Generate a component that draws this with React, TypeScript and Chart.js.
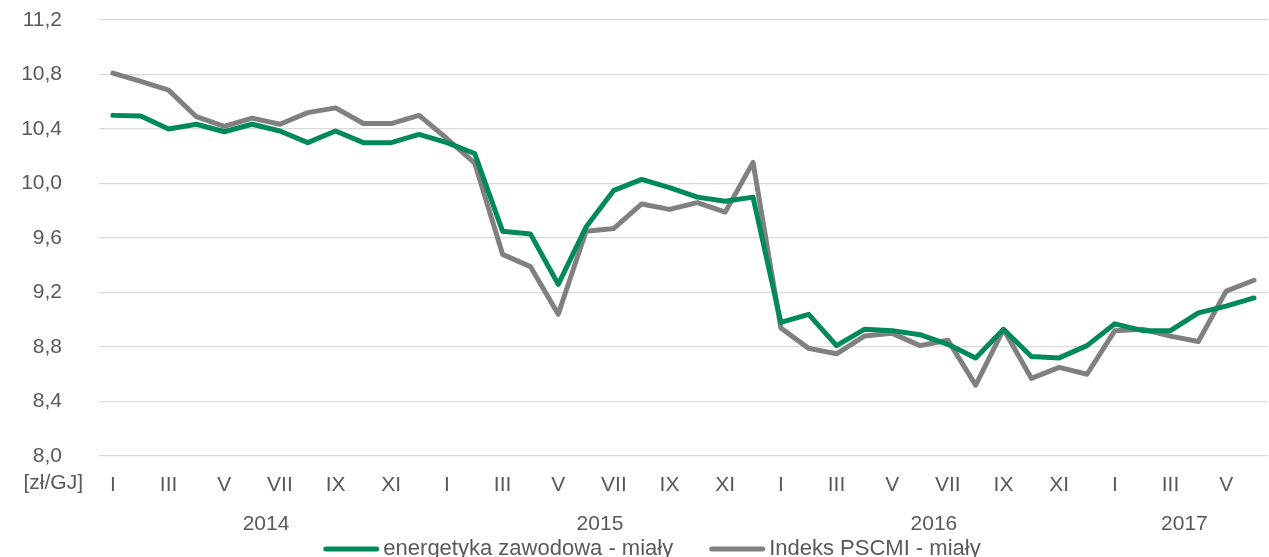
import React, { useEffect, useRef } from "react";
import { Chart, registerables } from "chart.js";

Chart.register(...registerables);

const monthNames = ["I", "II", "III", "IV", "V", "VI", "VII", "VIII", "IX", "X", "XI", "XII"];
const years = ["2014", "2015", "2016", "2017"];
const monthsPerYear = [12, 12, 12, 6];

const energetyka = [
  10.50, 10.495, 10.40, 10.435, 10.38, 10.435, 10.385, 10.30, 10.385, 10.30, 10.30, 10.36,
  10.30, 10.22, 9.65, 9.63, 9.26, 9.68, 9.95, 10.03, 9.97, 9.90, 9.87, 9.90,
  8.98, 9.04, 8.81, 8.93, 8.92, 8.89, 8.82, 8.72, 8.93, 8.73, 8.72, 8.81,
  8.97, 8.92, 8.92, 9.05, 9.10, 9.16,
];
const pscmi = [
  10.81, 10.75, 10.685, 10.49, 10.42, 10.48, 10.435, 10.52, 10.555, 10.44, 10.44, 10.50,
  10.33, 10.15, 9.48, 9.39, 9.04, 9.65, 9.67, 9.85, 9.81, 9.86, 9.79, 10.155,
  8.94, 8.79, 8.75, 8.88, 8.90, 8.81, 8.85, 8.52, 8.93, 8.57, 8.65, 8.60,
  8.92, 8.93, 8.88, 8.84, 9.21, 9.29,
];

const seriesNames = ["energetyka zawodowa - miały", "Indeks PSCMI - miały"];
const seriesColors = ["#00895A", "#808080"];
const yMin = 8.0;
const yMax = 11.2;
const yStep = 0.4;
const unitLabel = "[zł/GJ]";

const FONT = "'Liberation Sans', Arial, sans-serif";
const TEXT = "#595959";
const FS = 21;
const LEGEND_FS = 22;

function legendLine(color: string): HTMLCanvasElement {
  // swatch image: the line sits on the right part so that it ends close to the text
  const c = document.createElement("canvas");
  c.width = 64;
  c.height = 10;
  const g = c.getContext("2d")!;
  g.strokeStyle = color;
  g.lineWidth = 5;
  g.lineCap = "round";
  g.beginPath();
  g.moveTo(10.5, 5);
  g.lineTo(61.5, 5);
  g.stroke();
  return c;
}

export default function App() {
  const ref = useRef<HTMLCanvasElement>(null);

  useEffect(() => {
    const canvas = ref.current!;
    const labels: string[] = [];
    years.forEach((y, yi) => {
      for (let m = 0; m < monthsPerYear[yi]; m++) labels.push(monthNames[m]);
    });
    const yearCenters: number[] = [];
    let start = 0;
    monthsPerYear.forEach((n) => {
      yearCenters.push(start + (n - 1) / 2);
      start += n;
    });

    const unitPlugin = {
      id: "unitLabel",
      afterDraw(chart: any) {
        const ctx = chart.ctx;
        const xs = chart.scales.x;
        ctx.save();
        ctx.font = `${FS}px ${FONT}`;
        ctx.fillStyle = TEXT;
        ctx.textAlign = "right";
        ctx.textBaseline = "middle";
        ctx.fillText(unitLabel, chart.chartArea.left - 16, xs.top + 27);
        ctx.restore();
      },
    };

    // move the legend box so it sits closer under the year row, slightly right of centre
    const legendShift = {
      id: "legendShift",
      afterLayout(chart: any) {
        const l = chart.legend;
        if (!l) return;
        l.left += 16;
        l.right += 16;
        l.top -= 32;
        l.bottom -= 32;
      },
    };

    const chart = new Chart(canvas, {
      type: "line",
      data: {
        labels,
        datasets: [
          {
            label: seriesNames[0],
            data: energetyka,
            borderColor: seriesColors[0],
            backgroundColor: seriesColors[0],
            borderWidth: 5,
            pointRadius: 0,
            pointStyle: legendLine(seriesColors[0]),
            borderCapStyle: "round",
            borderJoinStyle: "round",
            tension: 0,
          },
          {
            label: seriesNames[1],
            data: pscmi,
            borderColor: seriesColors[1],
            backgroundColor: seriesColors[1],
            borderWidth: 5,
            pointRadius: 0,
            pointStyle: legendLine(seriesColors[1]),
            borderCapStyle: "round",
            borderJoinStyle: "round",
            tension: 0,
          },
        ],
      },
      options: {
        animation: false,
        responsive: false,
        devicePixelRatio: 1,
        layout: { padding: { left: 0, right: 0, top: 20, bottom: 0 } },
        font: { family: FONT },
        plugins: {
          tooltip: { enabled: false },
          legend: {
            position: "bottom",
            labels: {
              usePointStyle: true,
              pointStyleWidth: 50,
              boxHeight: LEGEND_FS,
              padding: 35,
              color: TEXT,
              font: { size: LEGEND_FS, family: FONT },
            },
          },
        },
        scales: {
          x: {
            type: "category",
            offset: true,
            weight: 0,
            grid: { display: false, drawTicks: false },
            border: { display: false },
            afterFit: (scale: any) => {
              scale.height = 39;
            },
            ticks: {
              autoSkip: false,
              maxRotation: 0,
              padding: 17,
              color: TEXT,
              font: { size: FS, family: FONT },
              callback: (_v: any, i: number) => (i % 2 === 0 ? labels[i] : ""),
            },
          },
          x2: {
            type: "linear",
            position: "bottom",
            weight: 1,
            min: -0.5,
            max: labels.length - 0.5,
            grid: { display: false, drawTicks: false },
            border: { display: false },
            afterBuildTicks: (scale: any) => {
              scale.ticks = yearCenters.map((v) => ({ value: v }));
            },
            afterFit: (scale: any) => {
              scale.height = 40;
            },
            ticks: {
              autoSkip: false,
              maxRotation: 0,
              padding: 17,
              color: TEXT,
              font: { size: FS, family: FONT },
              callback: (v: any) => {
                const idx = yearCenters.findIndex((c) => Math.abs(c - v) < 1e-6);
                return idx >= 0 ? years[idx] : "";
              },
            },
          },
          y: {
            min: yMin,
            max: yMax,
            afterFit: (scale: any) => {
              scale.width = 99;
              scale.paddingTop = 12;
              scale.paddingBottom = 12;
            },
            grid: { color: "#d9d9d9", lineWidth: 1.3, drawTicks: false },
            border: { display: false },
            ticks: {
              stepSize: yStep,
              padding: 37,
              color: TEXT,
              font: { size: FS, family: FONT },
              callback: (v: any) => Number(v).toFixed(1).replace(".", ","),
            },
          },
        },
      },
      plugins: [unitPlugin, legendShift],
    } as any);
    return () => chart.destroy();
  }, []);

  return (
    <div style={{ position: "fixed", left: 0, top: 0, width: 1269, height: 557, overflow: "hidden", background: "#fff" }}>
      <canvas ref={ref} width={1271} height={602} style={{ display: "block" }} />
    </div>
  );
}
